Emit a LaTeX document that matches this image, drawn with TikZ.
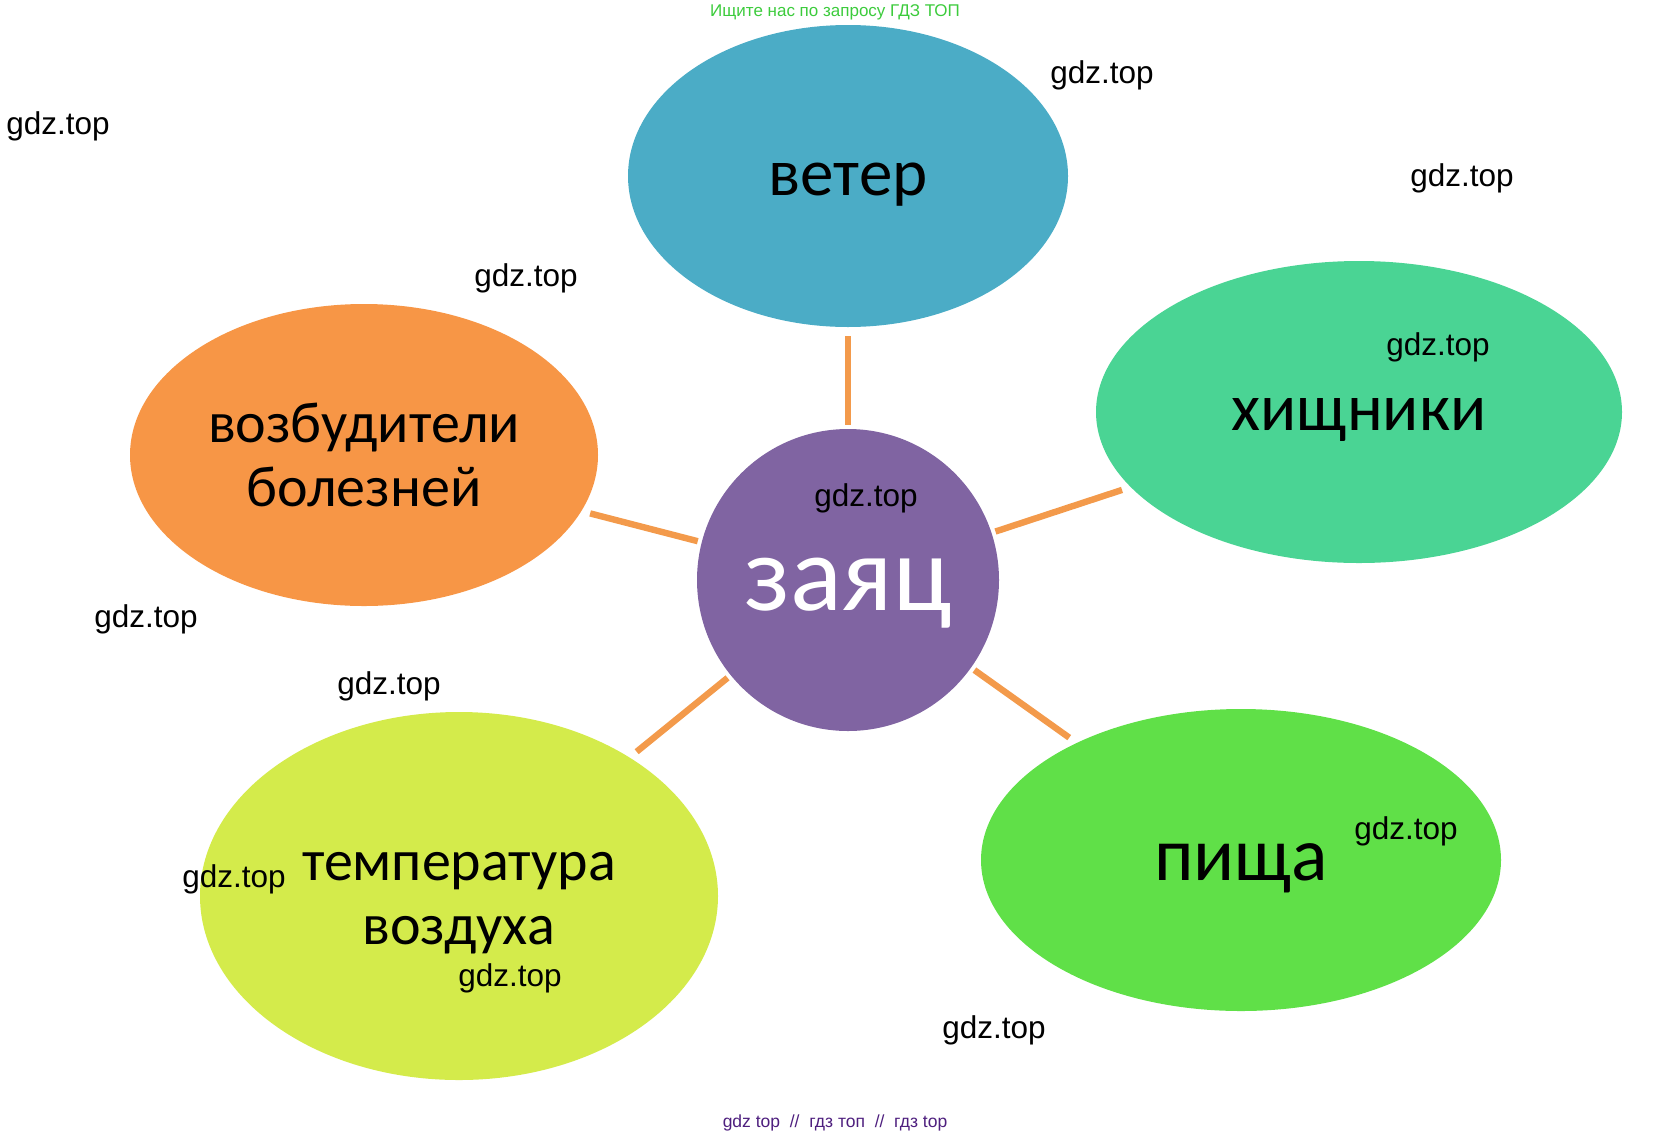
\documentclass[tikz,border=0pt]{standalone}
\usepackage{fontspec}
\setmainfont{Carlito}
\newfontfamily\wmfont{Liberation Sans}
\usetikzlibrary{shapes.geometric}

\definecolor{windblue}{HTML}{4BACC6}
\definecolor{preygreen}{HTML}{4AD494}
\definecolor{illorange}{HTML}{F79646}
\definecolor{harepurple}{HTML}{8064A2}
\definecolor{foodgreen}{HTML}{60E048}
\definecolor{airyellow}{HTML}{D4EB4B}
\definecolor{linkorange}{HTML}{F39A4B}
\definecolor{topgreen}{HTML}{3CCB3C}
\definecolor{botpurple}{HTML}{4E1F7E}

\begin{document}
\begin{tikzpicture}[x=1pt,y=-1pt]
        \tikzstyle{blob}=[ellipse,inner sep=0pt,text=black,align=center,font=\fontsize{58}{64}\selectfont]
        \tikzstyle{oneline}=[text depth=0pt]
        \tikzstyle{wm}=[inner sep=0pt,text=black,font=\wmfont\fontsize{31.5}{34}\selectfont]
        \tikzstyle{link}=[draw=linkorange,line width=6.4pt,shorten >=4pt,shorten <=9pt]
        \useasboundingbox (0,0) rectangle (1672,1138);

        \node[circle,fill=harepurple,minimum size=302,inner sep=0pt,text=white,oneline,
              font=\fontsize{108}{112}\selectfont] (hare) at (848,580) {\raisebox{-8pt}{заяц}};

        \node[blob,oneline,fill=windblue,minimum width=440,minimum height=302,
              font=\fontsize{67}{70}\selectfont]  (wind) at (848,176)  {\raisebox{-6pt}{ветер}};
        \node[blob,oneline,fill=preygreen,minimum width=526,minimum height=302,
              font=\fontsize{67}{70}\selectfont] (prey) at (1359,412) {\raisebox{-4pt}{хищники}};
        \node[blob,fill=illorange,minimum width=468,minimum height=302] (ill)  at (364,455)  {возбудители\\болезней};
        \node[blob,fill=airyellow,minimum width=518,minimum height=368] (air)  at (459,896)  {\rule{0pt}{43pt}температура\\воздуха};
        \node[blob,oneline,fill=foodgreen,minimum width=520,minimum height=302,
              font=\fontsize{76}{80}\selectfont] (food) at (1241,860) {\raisebox{-4pt}{пища}};

        \path (wind) edge[link] (hare)
              (ill)  edge[link] (hare)
              (prey) edge[link] (hare)
              (air)  edge[link] (hare)
              (food) edge[link] (hare);

        % watermarks
        \node[wm] (wm1)  at (58,126)   {gdz.top};
        \node[wm] (wm2)  at (1102,75)  {gdz.top};
        \node[wm] (wm3)  at (1462,178) {gdz.top};
        \node[wm] (wm4)  at (526,278)  {gdz.top};
        \node[wm] (wm5)  at (1438,347) {gdz.top};
        \node[wm] (wm6)  at (866,498)  {gdz.top};
        \node[wm] (wm7)  at (146,619)  {gdz.top};
        \node[wm] (wm8)  at (389,686)  {gdz.top};
        \node[wm] (wm9)  at (234,879)  {gdz.top};
        \node[wm] (wm10) at (510,978)  {gdz.top};
        \node[wm] (wm11) at (1406,831) {gdz.top};
        \node[wm] (wm12) at (994,1030) {gdz.top};

        \node[text=topgreen,font=\wmfont\fontsize{17}{19}\selectfont] (top) at (835,12) {Ищите нас по запросу ГДЗ ТОП};
        \node[text=botpurple,font=\wmfont\fontsize{17.5}{19}\selectfont] (bottom) at (835,1123) {gdz top\ \ //\ \ гдз топ\ \ //\ \ гдз top};
\end{tikzpicture}
\end{document}
